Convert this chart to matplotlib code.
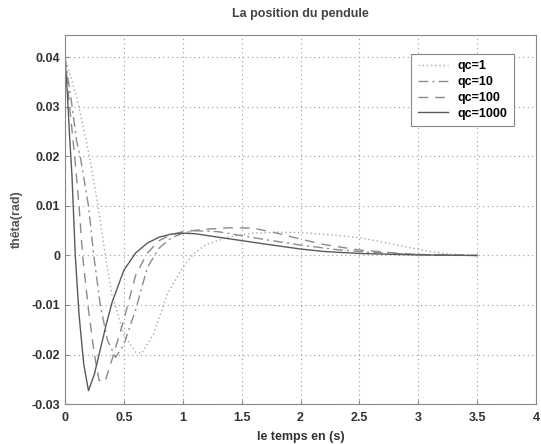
import matplotlib
matplotlib.use("Agg")
import matplotlib.pyplot as plt

# lectures faites sur la figure (t en s, theta en rad)
t_qc1 = [0, 0.1, 0.2, 0.26, 0.3, 0.343, 0.4, 0.5, 0.6, 0.65, 0.75, 0.87, 1.0, 1.1,
         1.2, 1.4, 1.6, 1.8, 2.0, 2.2, 2.5, 2.7, 2.9, 3.1, 3.3, 3.5]
y_qc1 = [0.04, 0.032, 0.021, 0.013, 0.007, 0.0, -0.008, -0.016, -0.0195, -0.0198, -0.016,
         -0.0077, -0.0024, 0.0005, 0.0022, 0.0038, 0.0045, 0.0047, 0.0046, 0.0043, 0.0036,
         0.0027, 0.0017, 0.0008, 0.0002, 0.0]

t_qc10 = [0, 0.05, 0.1, 0.13, 0.2, 0.245, 0.3, 0.36, 0.43, 0.5, 0.6, 0.7, 0.8, 0.9,
          1.0, 1.1, 1.3, 1.5, 1.7, 2.0, 2.3, 2.6, 3.0, 3.5]
y_qc10 = [0.04, 0.032, 0.023, 0.02, 0.01, 0.0, -0.01, -0.017, -0.0206, -0.018, -0.011,
          -0.0024, 0.0015, 0.0035, 0.0045, 0.005, 0.0048, 0.004, 0.0032, 0.0021, 0.0012,
          0.0006, 0.0002, 0.0]

t_qc100 = [0, 0.04, 0.083, 0.12, 0.15, 0.2, 0.25, 0.29, 0.34, 0.4, 0.5, 0.6, 0.7, 0.8,
           0.9, 1.0, 1.2, 1.4, 1.6, 1.8, 2.0, 2.2, 2.5, 2.8, 3.0, 3.5]
y_qc100 = [0.04, 0.03, 0.02, 0.01, 0.0, -0.011, -0.02, -0.0252, -0.0255, -0.021, -0.013,
           -0.004, 0.0005, 0.003, 0.0042, 0.0048, 0.0053, 0.0056, 0.0055, 0.0045, 0.0033,
           0.0022, 0.0011, 0.0005, 0.0002, 0.0]

t_qc1000 = [0, 0.02, 0.04, 0.06, 0.088, 0.12, 0.16, 0.2, 0.25, 0.3, 0.35, 0.4, 0.5, 0.6,
            0.7, 0.8, 0.9, 1.0, 1.1, 1.3, 1.5, 1.7, 2.0, 2.2, 2.5, 3.0, 3.5]
y_qc1000 = [0.04, 0.033, 0.024, 0.016, 0.0, -0.012, -0.022, -0.0273, -0.024, -0.019,
            -0.014, -0.0095, -0.003, 0.0005, 0.0025, 0.0037, 0.0043, 0.0045, 0.0044,
            0.0037, 0.003, 0.0023, 0.0013, 0.0008, 0.0004, 0.0001, 0.0]

labels = ["qc=1", "qc=10", "qc=100", "qc=1000"]
xticks = [0, 0.5, 1, 1.5, 2, 2.5, 3, 3.5, 4]
yticks = [-0.03, -0.02, -0.01, 0, 0.01, 0.02, 0.03, 0.04]

plt.rcParams["font.family"] = ["Liberation Sans", "DejaVu Sans"]
plt.rcParams["font.size"] = 9
plt.rcParams["font.weight"] = "bold"
plt.rcParams["axes.titleweight"] = "bold"
plt.rcParams["axes.labelweight"] = "bold"

fig = plt.figure(figsize=(5.41, 4.44), dpi=100)
ax = fig.add_axes([0.120, 0.090, 0.871, 0.831])

ax.plot(t_qc1, y_qc1, color="#a8a8a8", lw=1.0, ls=(0, (1, 2)), label=labels[0])
ax.plot(t_qc10, y_qc10, color="#8c8c8c", lw=1.0, ls=(0, (7, 3, 1.5, 3)), label=labels[1])
ax.plot(t_qc100, y_qc100, color="#8a8a8a", lw=1.0, ls=(0, (7, 5)), label=labels[2])
ax.plot(t_qc1000, y_qc1000, color="#5a5a5a", lw=1.0, ls="-", label=labels[3])

ax.set_xlim(0, 4)
ax.set_ylim(-0.03, 0.0445)
ax.set_xticks(xticks)
ax.set_xticklabels([f"{v:g}" for v in xticks])
ax.set_yticks(yticks)
ax.set_yticklabels([f"{v:g}" for v in yticks])
ax.tick_params(direction="in", length=3, color="#888888", labelcolor="#333333")
ax.tick_params(axis="x", pad=6)
ax.grid(True, color="#999999", ls=(0, (1, 3)), lw=0.8)
for s in ax.spines.values():
    s.set_color("#888888")
    s.set_linewidth(0.8)

ax.set_title("La position du pendule", color="#444444", pad=13, fontsize=9)
ax.set_xlabel("le temps en (s)", color="#333333", labelpad=5)
ax.set_ylabel("thêta(rad)", color="#555555", labelpad=6)

leg = ax.legend(loc="upper right", bbox_to_anchor=(0.966, 0.965), fancybox=False,
                edgecolor="#888888", framealpha=1, handlelength=2.4,
                borderpad=0.5, labelspacing=0.3, prop={"weight": "bold", "size": 9})
leg.get_frame().set_linewidth(0.8)

fig.savefig("out.png", dpi=100)
